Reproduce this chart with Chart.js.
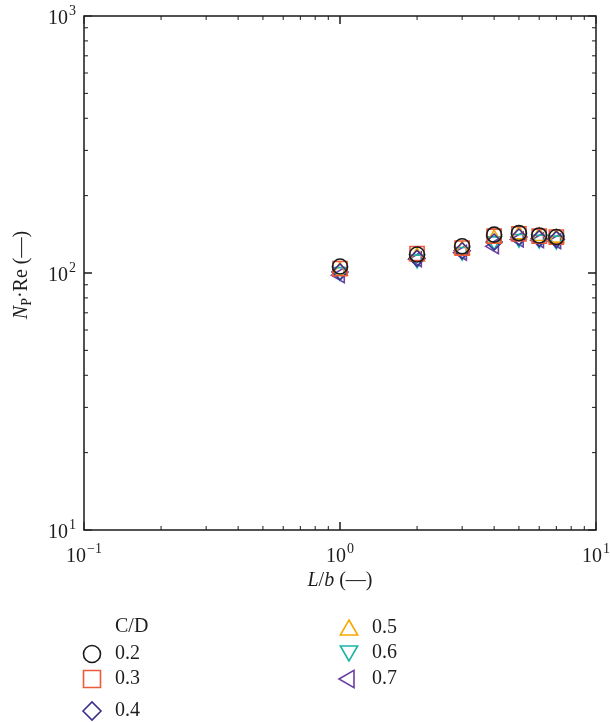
<!DOCTYPE html>
<html>
<head>
<meta charset="utf-8">
<script src="https://cdn.jsdelivr.net/npm/chart.js@4/dist/chart.umd.min.js"></script>
<style>
html,body{margin:0;padding:0;background:#fff;}
#wrap{position:relative;width:610px;height:722px;}
</style>
</head>
<body>
<div id="wrap"><canvas id="c" width="610" height="722"></canvas></div>
<script>
// ---- data ----
const lb = [1, 2, 3, 4, 5, 6, 7];
const cd02 = [106, 118, 127, 141, 143, 140, 138];
const cd03 = [104, 119, 125, 139, 142, 139, 138];
const cd04 = [101, 114, 122, 132, 138, 136, 135];
const cd05 = [102, 116, 123, 136, 141, 139, 137];
const cd06 = [101, 113, 121, 133, 136, 135, 134];
const cd07 = [98, 113, 120, 127, 135, 134, 133];
const seriesLabels = ['0.2', '0.3', '0.4', '0.5', '0.6', '0.7'];
const legendTitle = 'C/D';
const xTickExps = ['\u22121', '0', '1'];
const xTickVals = [0.1, 1, 10];
const yTickExps = ['1', '2', '3'];
const yTickVals = [10, 100, 1000];

const FONT = '"Liberation Serif", "DejaVu Serif", serif';
const styles = [
  {c:'#1a1a1a', ps:'circle', rot:0, r:7.5},
  {c:'#ee5a3c', ps:'rect', rot:0, r:10},
  {c:'#3b3290', ps:'rectRot', rot:0, r:8},
  {c:'#f7a800', ps:'triangle', rot:0, r:8.5},
  {c:'#1bb5a6', ps:'triangle', rot:180, r:8.5},
  {c:'#6b3ea3', ps:'triangle', rot:270, r:8.5}
];
const series = [cd02, cd03, cd04, cd05, cd06, cd07];

const datasets = series.map((s, i) => ({
  label: seriesLabels[i],
  data: lb.map((x, j) => ({x: x, y: s[j]})),
  pointStyle: styles[i].ps,
  rotation: styles[i].rot,
  pointRadius: styles[i].r,
  pointHoverRadius: styles[i].r,
  borderColor: styles[i].c,
  backgroundColor: 'rgba(0,0,0,0)',
  pointBorderWidth: 1.6,
  showLine: false
}));

function drawPow(ctx, exp, x, y, align) {
  ctx.font = '20px ' + FONT;
  const wb = ctx.measureText('10').width;
  ctx.font = '14px ' + FONT;
  const we = ctx.measureText(exp).width;
  const w = wb + we + 1;
  let x0 = align === 'right' ? x - w : x - w / 2;
  ctx.textBaseline = 'middle';
  ctx.textAlign = 'left';
  ctx.font = '20px ' + FONT;
  ctx.fillText('10', x0, y);
  ctx.font = '14px ' + FONT;
  ctx.fillText(exp, x0 + wb + 1, y - 8);
}

const framePlugin = {
  id: 'frame',
  afterDraw(chart) {
    const ctx = chart.ctx;
    const a = chart.chartArea;
    const xs = chart.scales.x, ys = chart.scales.y;
    ctx.save();
    ctx.strokeStyle = '#1a1a1a';
    ctx.lineWidth = 1.5;
    ctx.strokeRect(a.left, a.top, a.right - a.left, a.bottom - a.top);
    ctx.lineWidth = 1;
    for (let d = 0.1; d < 10; d *= 10) {
      for (let m = 1; m <= 10; m++) {
        const v = d * m;
        const px = xs.getPixelForValue(v);
        const len = (m === 1 || m === 10) ? 8 : 4;
        ctx.beginPath();
        ctx.moveTo(px, a.bottom); ctx.lineTo(px, a.bottom - len);
        ctx.moveTo(px, a.top); ctx.lineTo(px, a.top + len);
        ctx.stroke();
      }
    }
    for (let d = 10; d < 1000; d *= 10) {
      for (let m = 1; m <= 10; m++) {
        const v = d * m;
        const py = ys.getPixelForValue(v);
        const len = (m === 1 || m === 10) ? 8 : 4;
        ctx.beginPath();
        ctx.moveTo(a.left, py); ctx.lineTo(a.left + len, py);
        ctx.moveTo(a.right, py); ctx.lineTo(a.right - len, py);
        ctx.stroke();
      }
    }
    ctx.fillStyle = '#1e1e1e';
    yTickVals.forEach((v, i) => drawPow(ctx, yTickExps[i], a.left - 8, ys.getPixelForValue(v) + 3, 'right'));
    xTickVals.forEach((v, i) => drawPow(ctx, xTickExps[i], xs.getPixelForValue(v), a.bottom + 27, 'center'));
    ctx.textBaseline = 'middle';
    const xt = [['L', 'italic'], ['/', ''], ['b', 'italic'], [' (\u2014)', '']];
    let tw = 0;
    xt.forEach(p => { ctx.font = (p[1] ? p[1] + ' ' : '') + '20px ' + FONT; tw += ctx.measureText(p[0]).width; });
    let tx = xs.getPixelForValue(1) - tw / 2;
    ctx.textAlign = 'left';
    xt.forEach(p => { ctx.font = (p[1] ? p[1] + ' ' : '') + '20px ' + FONT; ctx.fillText(p[0], tx, a.bottom + 51); tx += ctx.measureText(p[0]).width; });
    ctx.save();
    ctx.translate(22, ys.getPixelForValue(100) + 2);
    ctx.rotate(-Math.PI / 2);
    const yt = [['N', 'italic', 20, 0], ['P', '', 14, 5], ['\u00b7Re (\u2014)', '', 20, 0]];
    let yw = 0;
    yt.forEach(p => { ctx.font = (p[1] ? p[1] + ' ' : '') + p[2] + 'px ' + FONT; yw += ctx.measureText(p[0]).width; });
    let yx = -yw / 2;
    yt.forEach(p => { ctx.font = (p[1] ? p[1] + ' ' : '') + p[2] + 'px ' + FONT; ctx.fillText(p[0], yx, p[3]); yx += ctx.measureText(p[0]).width; });
    ctx.restore();
    ctx.font = '20px ' + FONT;
    ctx.textAlign = 'left';
    ctx.textBaseline = 'middle';
    ctx.fillText(legendTitle, 115, 627);
    const pos = [[92, 654], [92, 679], [92, 711], [349, 628], [349, 653], [349, 679]];
    const lr = [8.5, 12, 9, 10, 10, 10];
    pos.forEach((p, i) => {
      ctx.save();
      ctx.strokeStyle = styles[i].c;
      ctx.fillStyle = 'rgba(0,0,0,0)';
      ctx.lineWidth = 1.6;
      Chart.helpers.drawPoint(ctx, {pointStyle: styles[i].ps, rotation: styles[i].rot, radius: lr[i], borderWidth: 1.6}, p[0], p[1] + (styles[i].ps === 'triangle' && styles[i].rot === 0 ? 2 : (styles[i].rot === 180 ? -2 : 0)));
      ctx.restore();
      ctx.fillStyle = '#1e1e1e';
      ctx.font = '20px ' + FONT;
      ctx.fillText(seriesLabels[i], p[0] + 23, p[1]);
    });
    ctx.restore();
  }
};

new Chart(document.getElementById('c'), {
  type: 'scatter',
  data: { datasets: datasets },
  options: {
    responsive: false,
    animation: false,
    layout: { padding: { left: 84, right: 14, top: 16, bottom: 192 } },
    plugins: { legend: { display: false }, tooltip: { enabled: false } },
    scales: {
      x: { type: 'logarithmic', min: 0.1, max: 10, display: false },
      y: { type: 'logarithmic', min: 10, max: 1000, display: false }
    }
  },
  plugins: [framePlugin]
});
</script>
</body>
</html>
